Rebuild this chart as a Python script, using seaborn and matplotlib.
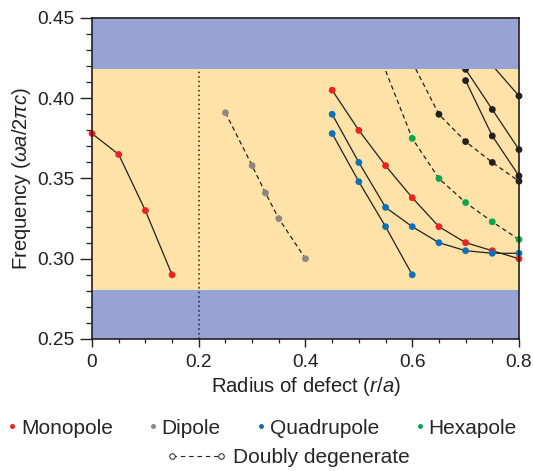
import matplotlib
matplotlib.use("Agg")
import matplotlib.pyplot as plt
from matplotlib.lines import Line2D
from matplotlib.ticker import MultipleLocator
import seaborn as sns
import pandas as pd

# ---------------- data ----------------
mono1_x = [0.00, 0.05, 0.10, 0.15]
mono1_y = [0.378, 0.365, 0.330, 0.290]

dip_x = [0.25, 0.30, 0.325, 0.35, 0.40]
dip_y = [0.391, 0.358, 0.341, 0.325, 0.300]

mono2_x = [0.45, 0.50, 0.55, 0.60, 0.65, 0.70, 0.75, 0.80]
mono2_y = [0.405, 0.380, 0.358, 0.338, 0.320, 0.310, 0.305, 0.300]

quad1_x = [0.45, 0.50, 0.55, 0.60, 0.65, 0.70, 0.75, 0.80]
quad1_y = [0.390, 0.360, 0.332, 0.320, 0.310, 0.305, 0.3034, 0.3034]

quad2_x = [0.45, 0.50, 0.55, 0.60]
quad2_y = [0.378, 0.348, 0.320, 0.290]

hexa_x = [0.545, 0.60, 0.65, 0.70, 0.75, 0.80]
hexa_y = [0.4215, 0.375, 0.350, 0.335, 0.323, 0.312]

blkd_x = [0.60, 0.65, 0.70, 0.75, 0.80]
blkd_y = [0.4225, 0.390, 0.373, 0.360, 0.3483]

blk1_x = [0.70, 0.75, 0.80]
blk1_y = [0.418, 0.393, 0.368]

blk2_x = [0.70, 0.75, 0.80]
blk2_y = [0.411, 0.3765, 0.3516]

blk3_x = [0.75, 0.80]
blk3_y = [0.4205, 0.4014]

x_ticks = [0, 0.2, 0.4, 0.6, 0.8]
x_ticklabels = ["0", "0.2", "0.4", "0.6", "0.8"]
y_ticks = [0.25, 0.30, 0.35, 0.40, 0.45]
y_ticklabels = ["0.25", "0.30", "0.35", "0.40", "0.45"]

legend_labels = ["Monopole", "Dipole", "Quadrupole", "Hexapole"]
degenerate_label = "Doubly degenerate"

# ---------------- style ----------------
RED = "#ED2024"
GRAY = "#8E8783"
BLUE = "#0B72BA"
GREEN = "#0AA64F"
BLACK = "#231F20"
YELLOW = "#FEE2A8"
BAND = "#97A3D4"

sns.set_theme(style="ticks")
plt.rcParams["font.family"] = ["Liberation Sans", "DejaVu Sans"]
plt.rcParams["mathtext.fontset"] = "custom"
plt.rcParams["mathtext.rm"] = "Liberation Sans"
plt.rcParams["mathtext.it"] = "Liberation Sans:italic"

fig = plt.figure(figsize=(5.33, 4.71), dpi=100)
ax = fig.add_axes([0.1726, 0.2803, 0.8011, 0.6815])
ax.set_facecolor(YELLOW)

DASH = (0, (3.6, 2.6))
series = [
    (mono1_x, mono1_y, RED, "-"),
    (dip_x, dip_y, GRAY, DASH),
    (mono2_x, mono2_y, RED, "-"),
    (quad1_x, quad1_y, BLUE, "-"),
    (quad2_x, quad2_y, BLUE, "-"),
    (hexa_x, hexa_y, GREEN, DASH),
    (blkd_x, blkd_y, BLACK, DASH),
    (blk1_x, blk1_y, BLACK, "-"),
    (blk2_x, blk2_y, BLACK, "-"),
    (blk3_x, blk3_y, BLACK, "-"),
]

for xs, ys, c, ls in series:
    df = pd.DataFrame({"x": xs, "y": ys})
    sns.lineplot(data=df, x="x", y="y", ax=ax, color=BLACK, lw=0.9,
                 linestyle=ls, sort=False, estimator=None, zorder=2)
    sns.scatterplot(data=df, x="x", y="y", ax=ax, color=c, s=24,
                    edgecolor="none", linewidth=0, zorder=3, clip_on=False)

# forbidden bands (drawn over the curves)
ax.axhspan(0.418, 0.45, color=BAND, lw=0, zorder=5)
ax.axhspan(0.25, 0.2805, color=BAND, lw=0, zorder=5)

# dotted vertical line at r/a = 0.2
ax.plot([0.2, 0.2], [0.25, 0.418], color=BLACK, lw=1.1, ls=(0, (1, 2)), zorder=6)

ax.set_xlim(0, 0.8)
ax.set_ylim(0.25, 0.45)
ax.xaxis.set_minor_locator(MultipleLocator(0.05))
ax.yaxis.set_minor_locator(MultipleLocator(0.01))
ax.set_xticks(x_ticks)
ax.set_xticklabels(x_ticklabels)
ax.set_yticks(y_ticks)
ax.set_yticklabels(y_ticklabels)
ax.tick_params(which="both", direction="out", colors=BLACK, labelsize=13.8)
ax.tick_params(axis="x", which="major", length=5.5, width=1.0, pad=5)
ax.tick_params(axis="x", which="minor", length=3.2, width=0.9)
ax.tick_params(axis="y", which="major", length=8.5, width=1.0, pad=4)
ax.tick_params(axis="y", which="minor", length=4.5, width=0.9)
ax.tick_params(axis="y", right=False)

for s in ["left", "bottom", "right", "top"]:
    ax.spines[s].set_visible(True)
    ax.spines[s].set_color(BLACK)
    ax.spines[s].set_linewidth(1.2)
    ax.spines[s].set_zorder(7)

ax.set_xlabel("Radius of defect ($r/a$)", fontsize=14.6, color=BLACK, labelpad=3)
ax.set_ylabel("Frequency ($\\omega a/2\\pi c$)", fontsize=14.6, color=BLACK, labelpad=3)

# legends
handles = [Line2D([], [], ls="", marker="o", color=c, markersize=3.6, mec="none")
           for c in (RED, GRAY, BLUE, GREEN)]
fig.legend(handles, legend_labels, ncol=4, loc="center",
           bbox_to_anchor=(0.492, 0.091), frameon=False, fontsize=15,
           handlelength=0.4, handletextpad=0.2, columnspacing=1.75,
           borderaxespad=0, borderpad=0)
deg = Line2D([], [], color=BLACK, lw=0.8, ls=(0, (4, 3.5)), marker="o",
             markersize=4, mfc="white", mec=BLACK, mew=0.7)
fig.legend([deg], [degenerate_label], loc="center", bbox_to_anchor=(0.54, 0.028),
           frameon=False, fontsize=15, numpoints=2, handlelength=2.95,
           handletextpad=0.3, borderaxespad=0, borderpad=0)

fig.savefig("out.png", dpi=100)
